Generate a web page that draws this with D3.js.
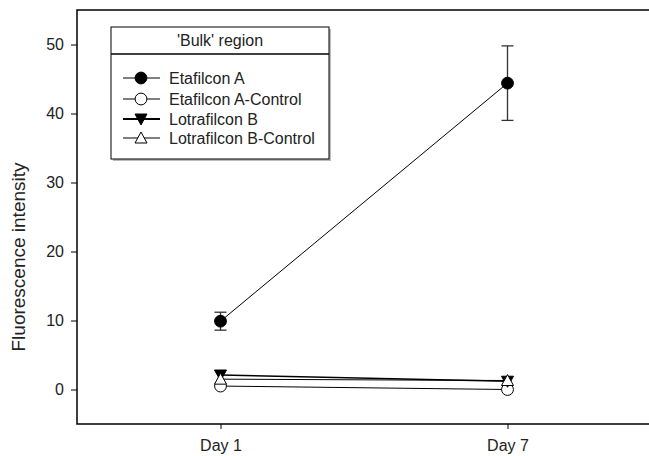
<!DOCTYPE html>
<html>
<head>
<meta charset="utf-8">
<script src="https://cdn.jsdelivr.net/npm/d3@7"></script>
<style>
  body { margin: 0; background: #fff; }
  svg { font-family: "Liberation Sans", Arial, sans-serif; }
</style>
</head>
<body>
<svg id="canvas"></svg>
<script>
const width = 649;
const height = 456;

const days = ["Day 1", "Day 7"];
const yTicks = [0, 10, 20, 30, 40, 50];

const etafilconA = [9.9, 44.4];
const etafilconAErr = [1.3, 5.4];
const etafilconACtrl = [0.5, 0.0];
const lotrafilconB = [2.1, 1.2];
const lotrafilconBCtrl = [1.5, 1.3];

const series = [
  { name: "Etafilcon A", values: etafilconA, err: etafilconAErr, symbol: d3.symbolCircle, fill: "#000" },
  { name: "Etafilcon A-Control", values: etafilconACtrl, err: null, symbol: d3.symbolCircle, fill: "#fff" },
  { name: "Lotrafilcon B", values: lotrafilconB, err: null, symbol: "down", fill: "#000" },
  { name: "Lotrafilcon B-Control", values: lotrafilconBCtrl, err: null, symbol: d3.symbolTriangle, fill: "#fff" }
];

const svg = d3.select("#canvas")
  .attr("width", width)
  .attr("height", height);

const plotLeft = 77, plotTop = 10, plotBottom = 424;
const fontFamily = "Liberation Sans, Arial, sans-serif";

const xScale = d3.scaleLinear()
  .domain([0.5, 2.5])
  .range([plotLeft, plotLeft + 574]);

const yScale = d3.scaleLinear()
  .domain([-5, 55])
  .range([plotBottom, plotTop]);

// marker path for each series
function marker(s) {
  if (s.symbol === "down") {
    return "M-6,-5L6,-5L0,6Z";
  }
  if (s.symbol === d3.symbolTriangle) {
    return "M0,-6L6,5L-6,5Z";
  }
  return d3.symbol().type(s.symbol).size(110)();
}

// frame (right side runs off the page)
svg.append("path")
   .attr("d", `M${xScale(2.5)},${plotTop}H${plotLeft}V${plotBottom}H${xScale(2.5)}`)
   .attr("fill", "none")
   .attr("stroke", "#000")
   .attr("stroke-width", 1.5);

const yAxis = d3.axisLeft(yScale)
  .tickValues(yTicks)
  .tickSize(6)
  .tickPadding(7);
const yG = svg.append("g")
  .attr("transform", `translate(${plotLeft},0)`)
  .call(yAxis);
yG.select(".domain").remove();
yG.attr("font-size", 16).attr("font-family", fontFamily);
yG.selectAll("text").attr("fill", "#222");

const xAxis = d3.axisBottom(xScale)
  .tickValues([1, 2])
  .tickFormat((d, i) => days[i])
  .tickSize(5)
  .tickPadding(11);
const xG = svg.append("g")
  .attr("transform", `translate(0,${plotBottom})`)
  .call(xAxis);
xG.select(".domain").remove();
xG.attr("font-size", 16).attr("font-family", fontFamily);
xG.selectAll("text").attr("fill", "#222");

svg.append("text")
   .attr("transform", `translate(25,${(plotTop + plotBottom) / 2 + 40}) rotate(-90)`)
   .attr("text-anchor", "middle")
   .attr("font-size", 19)
   .attr("fill", "#222")
   .text("Fluorescence intensity");

const line = d3.line()
  .x((d, i) => xScale(i + 1))
  .y(d => yScale(d));

// later series sit on top
series.forEach((s, k) => {
  svg.append("path")
     .datum(s.values)
     .attr("d", line)
     .attr("fill", "none")
     .attr("stroke", "#000")
     .attr("stroke-width", k === 2 ? 1.5 : 1);

  if (s.err) {
    s.values.forEach((v, i) => {
      const x = xScale(i + 1);
      const g = svg.append("g").attr("stroke", "#333").attr("stroke-width", 1.3);
      g.append("line").attr("x1", x).attr("x2", x).attr("y1", yScale(v + s.err[i])).attr("y2", yScale(v - s.err[i]));
      g.append("line").attr("x1", x - 6).attr("x2", x + 6).attr("y1", yScale(v + s.err[i])).attr("y2", yScale(v + s.err[i]));
      g.append("line").attr("x1", x - 6).attr("x2", x + 6).attr("y1", yScale(v - s.err[i])).attr("y2", yScale(v - s.err[i]));
    });
  }

  svg.selectAll(null)
     .data(s.values)
     .enter()
     .append("path")
     .attr("d", marker(s))
     .attr("transform", (d, i) => `translate(${xScale(i + 1)},${yScale(d)})`)
     .attr("fill", s.fill)
     .attr("stroke", "#000")
     .attr("stroke-width", 1);
});

// legend
const legend = svg.append("g");
legend.append("rect")
  .attr("x", 113).attr("y", 29).attr("width", 218).attr("height", 132)
  .attr("fill", "#bbb");
legend.append("rect")
  .attr("x", 111).attr("y", 27).attr("width", 218).attr("height", 132)
  .attr("fill", "#fff").attr("stroke", "#000").attr("stroke-width", 1);
legend.append("line")
  .attr("x1", 111).attr("x2", 329).attr("y1", 54).attr("y2", 54)
  .attr("stroke", "#000").attr("stroke-width", 1.5);
legend.append("text")
  .attr("x", 220).attr("y", 46)
  .attr("text-anchor", "middle")
  .attr("font-size", 16)
  .attr("fill", "#222")
  .text("'Bulk' region");

const rowY = [78, 99, 119, 138];
series.forEach((s, i) => {
  const y = rowY[i];
  legend.append("line")
    .attr("x1", 123).attr("x2", 160).attr("y1", y).attr("y2", y)
    .attr("stroke", "#000").attr("stroke-width", i === 2 ? 1.8 : 1);
  legend.append("path")
    .attr("d", marker(s))
    .attr("transform", `translate(141,${y})`)
    .attr("fill", s.fill)
    .attr("stroke", "#000");
  legend.append("text")
    .attr("x", 169).attr("y", y + 6)
    .attr("font-size", 16)
    .attr("fill", "#222")
    .text(s.name);
});
</script>
</body>
</html>
